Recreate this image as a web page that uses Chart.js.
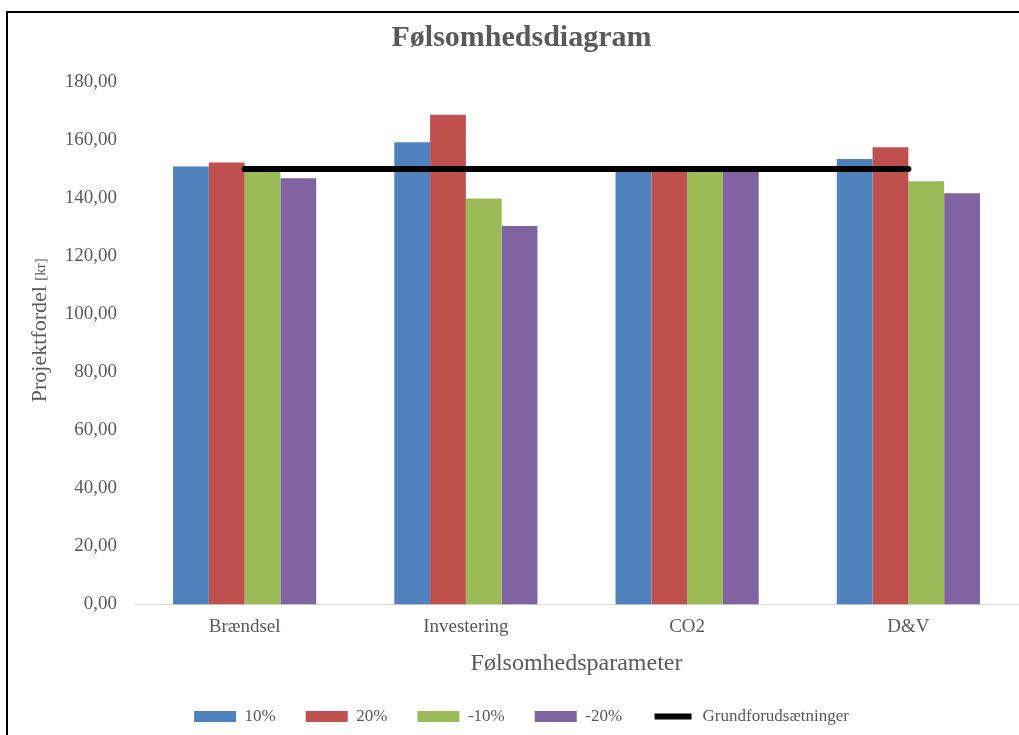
<!DOCTYPE html>
<html>
<head>
<meta charset="utf-8">
<script src="https://cdn.jsdelivr.net/npm/chart.js@4"></script>
<style>
  html, body { margin: 0; padding: 0; background: #fff; overflow: hidden; }
  #wrap { position: relative; width: 1019px; height: 735px; }
  #frame { position: absolute; left: 6px; top: 11px; width: 2000px; height: 2000px;
           border-left: 2px solid #000; border-top: 2px solid #000; pointer-events: none; }
</style>
</head>
<body>
<div id="wrap">
  <canvas id="chart" width="1019" height="735"></canvas>
  <div id="frame"></div>
</div>
<script>
const categories = ['Brændsel', 'Investering', 'CO2', 'D&V'];
const plus10 = [150.9, 159.2, 150.0, 153.5];
const plus20 = [152.3, 168.7, 150.0, 157.5];
const minus10 = [150.0, 139.9, 150.0, 145.8];
const minus20 = [146.8, 130.4, 150.0, 141.7];
const basis = [150.0, 150.0, 150.0, 150.0];
const yTicks = [0, 20, 40, 60, 80, 100, 120, 140, 160, 180];

const serif = "'Liberation Serif', 'Times New Roman', serif";
const grey = '#595959';

// y title with a smaller unit part, drawn by hand
const yTitle = {
  id: 'yTitle',
  afterDraw(chart) {
    const { ctx, chartArea } = chart;
    const x = chartArea.left - 94;
    const y = (chartArea.top + chartArea.bottom) / 2 - 13;
    const main = 'Projektfordel ';
    const unit = '[kr]';
    ctx.save();
    ctx.fillStyle = grey;
    ctx.textBaseline = 'middle';
    ctx.font = '22px ' + serif;
    const w1 = ctx.measureText(main).width;
    ctx.font = '15px ' + serif;
    const w2 = ctx.measureText(unit).width;
    ctx.translate(x, y);
    ctx.rotate(-Math.PI / 2);
    ctx.textAlign = 'left';
    ctx.font = '22px ' + serif;
    ctx.fillText(main, -(w1 + w2) / 2, 0);
    ctx.font = '15px ' + serif;
    ctx.fillText(unit, -(w1 + w2) / 2 + w1, 1);
    ctx.restore();
  }
};

const ctx = document.getElementById('chart').getContext('2d');
new Chart(ctx, {
  data: {
    labels: categories,
    datasets: [
      { type: 'line', label: 'Grundforudsætninger', data: basis, borderColor: '#000', backgroundColor: '#000',
        borderWidth: 6, pointRadius: 0, borderCapStyle: 'round', order: 0 },
      { type: 'bar', label: '10%', data: plus10, backgroundColor: '#4F81BD', order: 1 },
      { type: 'bar', label: '20%', data: plus20, backgroundColor: '#C0504D', order: 1 },
      { type: 'bar', label: '-10%', data: minus10, backgroundColor: '#9BBB59', order: 1 },
      { type: 'bar', label: '-20%', data: minus20, backgroundColor: '#8064A2', order: 1 }
    ]
  },
  options: {
    responsive: false,
    animation: false,
    datasets: { bar: { categoryPercentage: 0.647, barPercentage: 1 } },
    layout: { padding: { left: 24, right: 0, top: 0, bottom: 0 } },
    plugins: {
      tooltip: { enabled: false },
      title: {
        display: true,
        text: 'Følsomhedsdiagram',
        color: grey,
        font: { family: serif, size: 30, weight: 'bold' },
        padding: { top: 20, bottom: 26 }
      },
      legend: {
        position: 'bottom',
        labels: {
          color: grey,
          font: { family: serif, size: 17 },
          boxWidth: 42,
          boxHeight: 11,
          padding: 30,
          generateLabels(chart) {
            const items = Chart.defaults.plugins.legend.labels.generateLabels(chart);
            const line = items.find(it => it.text === 'Grundforudsætninger');
            items.splice(items.indexOf(line), 1);
            line.fillStyle = '#000';
            line.strokeStyle = '#fff';
            line.lineWidth = 5;
            line.lineCap = 'butt';
            line.lineDash = [];
            items.push(line);
            return items;
          }
        }
      }
    },
    scales: {
      x: {
        grid: { display: false, drawTicks: false, tickLength: 0 },
        border: { display: true, color: '#d9d9d9', width: 1 },
        ticks: { color: grey, padding: 11, font: { family: serif, size: 19 } },
        title: {
          display: true,
          text: 'Følsomhedsparameter',
          color: grey,
          font: { family: serif, size: 24 },
          padding: 0
        }
      },
      y: {
        min: 0,
        max: 180,
        afterFit(scale) { scale.width = 110; },
        afterBuildTicks(scale) { scale.ticks = yTicks.map(v => ({ value: v })); },
        grid: { display: false, drawTicks: false, tickLength: 0 },
        border: { display: false },
        ticks: {
          color: grey,
          padding: 17,
          font: { family: serif, size: 19 },
          callback: v => v.toFixed(2).replace('.', ',')
        }
      }
    }
  },
  plugins: [yTitle]
});
</script>
</body>
</html>
